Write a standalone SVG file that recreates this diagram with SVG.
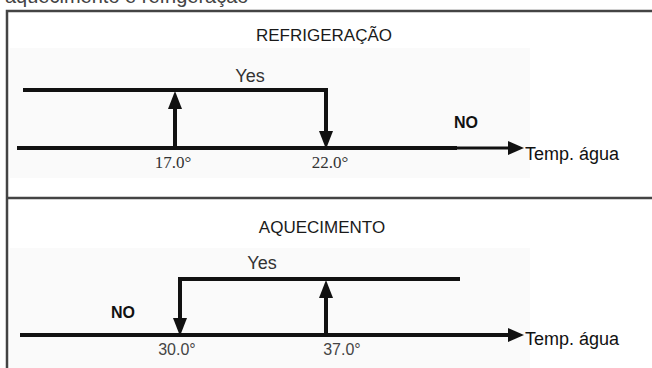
<svg xmlns="http://www.w3.org/2000/svg" width="652" height="368" viewBox="0 0 652 368">
<style>
.frame{stroke:#444;stroke-width:2.5;fill:none}
.ln{stroke:#111;stroke-width:4;fill:none;stroke-linecap:butt}
.thin{stroke:#111;stroke-width:3;fill:none}
.head{fill:#111}
.title{font-family:"Liberation Sans",Arial,sans-serif;font-size:17px;fill:#1a1a1a;text-anchor:middle}
.yes{font-family:"Liberation Sans",Arial,sans-serif;font-size:18px;fill:#333;text-anchor:middle}
.no{font-family:"Liberation Sans",Arial,sans-serif;font-size:16px;font-weight:bold;fill:#111;text-anchor:middle}
.axis{font-family:"Liberation Sans",Arial,sans-serif;font-size:18px;fill:#111}
.clip{font-family:"Liberation Sans",Arial,sans-serif;font-size:20px;fill:#444}
.valS{font-family:"Liberation Serif","Times New Roman",serif;font-size:17px;fill:#333;text-anchor:middle}
.valA{font-family:"Liberation Sans",Arial,sans-serif;font-size:16px;fill:#444;text-anchor:middle}
</style>
<rect width="652" height="368" fill="#ffffff"/>
<text x="5" y="3" class="clip">aquecimento e refrigeração</text>
<g id="frame">
<path class="frame" d="M7,368 V11 H652"/>
<path class="frame" d="M7,198 H652"/>
</g>
<rect x="10" y="48" width="520" height="130" fill="#fafafa"/>
<rect x="10" y="248" width="520" height="120" fill="#fafafa"/>
<g id="refrigeracao">
<text x="324" y="41" class="title">REFRIGERAÇÃO</text>
<text x="250" y="82" class="yes">Yes</text>
<text x="466" y="128" class="no">NO</text>
<text x="173" y="168" class="valS">17.0°</text>
<text x="330" y="168" class="valS">22.0°</text>
<text x="525" y="160" class="axis">Temp. água</text>
</g>
<g id="aquecimento">
<text x="322" y="233" class="title">AQUECIMENTO</text>
<text x="262" y="269" class="yes">Yes</text>
<text x="123" y="318" class="no">NO</text>
<text x="177" y="355" class="valA">30.0°</text>
<text x="342" y="355" class="valA">37.0°</text>
<text x="525" y="345" class="axis">Temp. água</text>
</g>
<g id="connectors">
<path class="ln" d="M23,90 H326 V134"/>
<path class="ln" d="M17,148 H457"/>
<path class="thin" d="M457,148 H510"/>
<polygon class="head" points="508,141 524,148 508,155"/>
<path class="ln" d="M175,148 V106"/>
<polygon class="head" points="175,91 168,109 182,109"/>
<polygon class="head" points="326,149 319,131 333,131"/>
<path class="ln" d="M460,279 H180 V320"/>
<path class="ln" d="M20,335 H510"/>
<polygon class="head" points="508,328 524,335 508,342"/>
<polygon class="head" points="180,336 173,318 187,318"/>
<path class="ln" d="M326,335 V295"/>
<polygon class="head" points="326,280 319,298 333,298"/>
</g>
</svg>
